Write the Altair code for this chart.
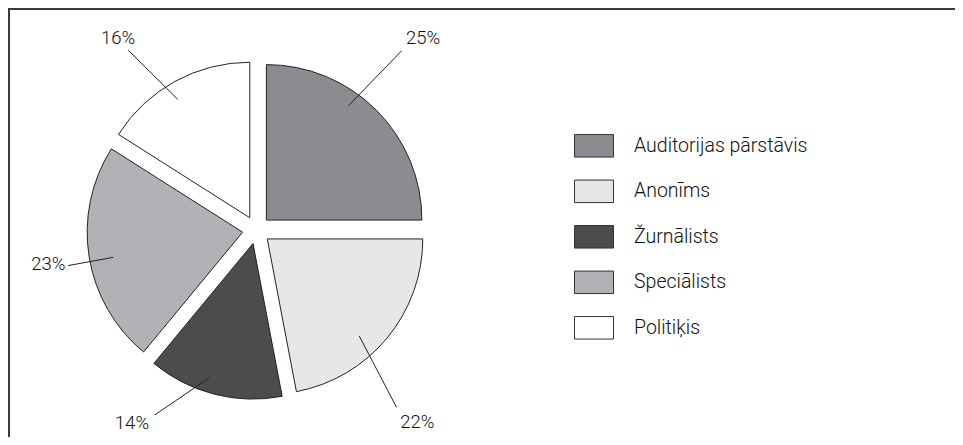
import math
import altair as alt
import pandas as pd

# ---- data ----
CATEGORIES = ["Auditorijas pārstāvis", "Anonīms", "Žurnālists", "Speciālists", "Politiķis"]
SHARES = [25, 22, 14, 23, 16]
COLORS = ["#8b8c90", "#e6e7e9", "#4b4c4e", "#b1b2b5", "#ffffff"]

# ---- layout (pixels, polar angles in degrees clockwise from 12 o'clock) ----
W, H = 947, 429
CX, CY = 248.5, 222.0
R = 155.5
EXPLODE = 14.0
LEADER_IN = [(36.5, 154.3), (135.9, 147.7), (197.7, 155.1), (259.2, 145.8), (328.9, 152.6)]
LEADER_OUT = [(39.0, 230.7), (141.7, 226.0), (208.8, 211.0), (259.3, 191.6), (324.5, 221.0)]
LABEL_POS = [(41.0, 253.9), (140.1, 250.9), (212.9, 229.3), (260.7, 211.0), (324.2, 236.5)]
FONT = "Roboto"


def polar(angle_deg, r):
    a = math.radians(angle_deg)
    return CX + r * math.sin(a), CY - r * math.cos(a)


total = sum(SHARES)
rows = []
acc = 0
for i, (cat, share) in enumerate(zip(CATEGORIES, SHARES)):
    t0 = acc / total * 2 * math.pi
    acc += share
    t1 = acc / total * 2 * math.pi
    mid = (t0 + t1) / 2
    xi, yi = polar(LEADER_IN[i][0], LEADER_IN[i][1])
    xo, yo = polar(LEADER_OUT[i][0], LEADER_OUT[i][1])
    xl, yl = polar(LABEL_POS[i][0], LABEL_POS[i][1])
    rows.append({
        "cat": cat,
        "share": share,
        "label": f"{share}%",
        "t0": t0,
        "t1": t1,
        "cx": CX + EXPLODE * math.sin(mid),
        "cy": CY - EXPLODE * math.cos(mid),
        "lx1": xi, "ly1": yi, "lx2": xo, "ly2": yo,
        "tx": xl, "ty": yl,
    })
df = pd.DataFrame(rows)

base = alt.Chart(df)

arcs = base.mark_arc(outerRadius=R, stroke="#222222", strokeWidth=1).encode(
    x=alt.X("cx:Q", scale=None),
    y=alt.Y("cy:Q", scale=None),
    theta=alt.Theta("t0:Q", scale=None, stack=None),
    theta2="t1:Q",
    fill=alt.Fill(
        "cat:N",
        scale=alt.Scale(domain=CATEGORIES, range=COLORS),
        legend=alt.Legend(
            title=None,
            orient="none",
            legendX=566,
            legendY=117.8,
            padding=0,
            symbolType="M-1,-0.577H1V0.577H-1Z",
            symbolSize=1521,
            symbolStrokeColor="#333333",
            symbolStrokeWidth=1,
            symbolOpacity=1,
            labelFont=FONT,
            labelFontSize=19.5,
            labelFontWeight=300,
            labelColor="#111111",
            labelOffset=20,
            rowPadding=11.5,
            labelLimit=400,
        ),
    ),
)

leaders = base.mark_rule(color="#222222", strokeWidth=1).encode(
    x=alt.X("lx1:Q", scale=None),
    y=alt.Y("ly1:Q", scale=None),
    x2="lx2:Q",
    y2="ly2:Q",
)

labels = base.mark_text(
    font=FONT, fontSize=18.5, fontWeight=300, color="#111111", align="center", baseline="middle"
).encode(
    x=alt.X("tx:Q", scale=None),
    y=alt.Y("ty:Q", scale=None),
    text="label:N",
)

frame_df = pd.DataFrame({"k": [0]})
top_line = alt.Chart(frame_df).mark_rule(color="#3a3a3a", strokeWidth=2).encode(
    x=alt.value(0), x2=alt.value(W), y=alt.value(1)
)
left_line = alt.Chart(frame_df).mark_rule(color="#3a3a3a", strokeWidth=2).encode(
    x=alt.value(1), y=alt.value(0), y2=alt.value(H)
)

chart = (
    alt.layer(arcs, leaders, labels, top_line, left_line)
    .properties(width=W, height=H, padding=0, autosize=alt.AutoSizeParams(type="none"))
    .configure_view(stroke=None)
    .configure(background="white")
)

chart.save("out.html", embed_options={"renderer": "svg", "actions": False})
